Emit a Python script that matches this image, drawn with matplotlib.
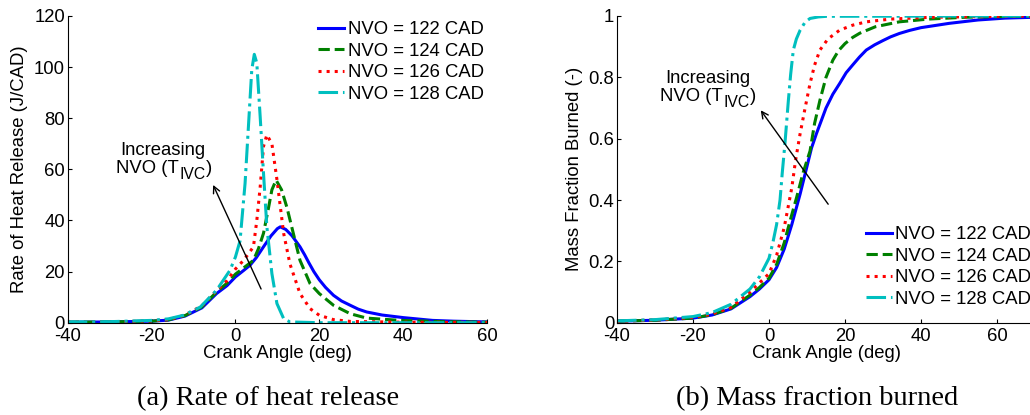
import matplotlib
matplotlib.use("Agg")
import matplotlib.pyplot as plt

plt.rcParams['font.family'] = ['Liberation Sans', 'DejaVu Sans']
plt.rcParams['axes.unicode_minus'] = False

labels = ["NVO = 122 CAD", "NVO = 124 CAD", "NVO = 126 CAD", "NVO = 128 CAD"]
colors = ["#0000ff", "#008000", "#ff0000", "#00bfbf"]
styles = ["-", "--", ":", "-."]

# Rate of heat release (J/CAD)
hr_x_122 = [-40, -30, -20, -16, -12, -8, -4.5, -2, 0, 2, 3.5, 5, 6.7, 8.5, 10, 10.7, 12, 13.5, 15.4, 16.5, 17.5, 18.7, 20, 21.5, 23.4, 25.3, 27.4, 29.3, 31.3, 35, 40, 47, 52, 60]
hr_y_122 = [0.2, 0.3, 0.6, 1.0, 2.6, 5.8, 11.4, 14.5, 17.9, 20.5, 22.5, 25.5, 29.7, 34, 36.8, 37.5, 36.5, 34, 29.7, 26.6, 23.5, 20, 16.8, 13.8, 10.7, 8.5, 6.8, 5.3, 4.2, 3.0, 2.0, 0.9, 0.6, 0.3]
hr_x_124 = [-40, -30, -20, -16, -12, -8, -4.5, -2, 0, 2, 4.3, 5.5, 6.7, 7.9, 8.7, 9.7, 11, 12.3, 13.8, 15.4, 17.8, 20, 23.4, 27.4, 31.3, 39.3, 50, 60]
hr_y_124 = [0.2, 0.3, 0.6, 1.1, 2.8, 6.2, 12, 15.5, 19, 21.5, 24.4, 29, 35, 45, 52, 55.8, 52, 45, 35, 24.4, 15.3, 11.4, 6.8, 3.5, 1.8, 0.9, 0.4, 0.2]
hr_x_126 = [-40, -30, -20, -16, -12, -8, -4.5, -2, 0, 2, 4.3, 5.1, 5.9, 6.7, 7.5, 8.7, 9.9, 11.5, 13, 15.4, 17.8, 20, 23.4, 27.4, 40, 60]
hr_y_126 = [0.2, 0.3, 0.7, 1.2, 3.0, 6.6, 12.5, 16.5, 21, 24.5, 29.7, 40, 53, 69, 73.5, 70, 56, 35, 23, 11.4, 5.5, 2.9, 1.2, 0.5, 0.2, 0.1]
hr_x_128 = [-40, -30, -20, -16, -12.4, -8.4, -4.5, -1.3, 0, 1.1, 2.3, 3.1, 3.9, 4.5, 5.1, 5.9, 6.7, 7.5, 8.7, 9.9, 11.5, 13, 20, 60]
hr_y_128 = [0.3, 0.4, 0.9, 1.5, 2.9, 6.1, 12.7, 20.5, 25.7, 32, 54.5, 76.7, 99, 105, 101.6, 80.7, 58.4, 37.5, 19.2, 7.5, 1.6, 0.3, 0.0, 0.0]

# Mass fraction burned (-)
mfb_x_122 = [-40, -30, -20, -15, -10, -5, -2.5, 0, 2, 4, 6, 8.2, 10, 11.2, 12.5, 13.8, 15, 16.8, 18.6, 20.3, 22, 23.8, 25.6, 27.8, 30, 32, 34.3, 37, 40, 47.4, 55, 62, 70]
mfb_y_122 = [0.005, 0.008, 0.015, 0.025, 0.045, 0.085, 0.11, 0.14, 0.18, 0.24, 0.32, 0.42, 0.51, 0.57, 0.617, 0.66, 0.7, 0.745, 0.78, 0.815, 0.84, 0.866, 0.889, 0.906, 0.92, 0.932, 0.943, 0.953, 0.962, 0.976, 0.987, 0.993, 0.996]
mfb_x_124 = [-40, -30, -20, -15, -10, -5, -2.5, 0, 2, 4, 5.5, 7.3, 9, 10.8, 12, 13.4, 15, 16.8, 18.3, 20, 22, 23.9, 28, 34.3, 42, 51.8, 70]
mfb_y_124 = [0.005, 0.008, 0.015, 0.026, 0.047, 0.09, 0.115, 0.145, 0.19, 0.26, 0.33, 0.41, 0.49, 0.56, 0.65, 0.725, 0.8, 0.856, 0.887, 0.91, 0.93, 0.944, 0.965, 0.981, 0.99, 0.996, 1.0]
mfb_x_126 = [-40, -30, -20, -15, -10, -5, -2.5, 0, 2, 4, 6, 7, 8.2, 9.5, 10.8, 12, 13.4, 15.5, 18.6, 22, 25.6, 32, 43, 70]
mfb_y_126 = [0.005, 0.009, 0.017, 0.028, 0.05, 0.1, 0.13, 0.16, 0.22, 0.31, 0.44, 0.53, 0.617, 0.7, 0.78, 0.84, 0.889, 0.925, 0.954, 0.97, 0.981, 0.99, 0.996, 1.0]
mfb_x_128 = [-40, -30, -20, -15, -10, -5, -2.5, 0, 1, 2, 2.9, 3.5, 4.2, 5.1, 5.7, 6.4, 7.2, 8.2, 9.5, 10.8, 13, 15.2, 70]
mfb_y_128 = [0.006, 0.01, 0.02, 0.033, 0.06, 0.11, 0.15, 0.21, 0.26, 0.32, 0.4, 0.49, 0.585, 0.725, 0.81, 0.889, 0.925, 0.954, 0.98, 0.992, 0.997, 0.999, 1.0]

hr_x = [hr_x_122, hr_x_124, hr_x_126, hr_x_128]
hr_y = [hr_y_122, hr_y_124, hr_y_126, hr_y_128]
mfb_x = [mfb_x_122, mfb_x_124, mfb_x_126, mfb_x_128]
mfb_y = [mfb_y_122, mfb_y_124, mfb_y_126, mfb_y_128]

xticks = [-40, -20, 0, 20, 40, 60]
hr_yticks = [0, 20, 40, 60, 80, 100, 120]
mfb_yticks = [0, 0.2, 0.4, 0.6, 0.8, 1.0]
mfb_yticklabels = ["0", "0.2", "0.4", "0.6", "0.8", "1"]

W, H = 1030, 415
fig = plt.figure(figsize=(W / 100, H / 100), dpi=100)

FS = 13.3


def style_axes(ax):
    for s in ["top", "right"]:
        ax.spines[s].set_visible(False)
    for s in ["left", "bottom"]:
        ax.spines[s].set_linewidth(0.8)
        ax.spines[s].set_color("black")
    ax.tick_params(direction="in", length=3, width=0.8, labelsize=FS)
    ax.tick_params(axis="x", pad=3.5)
    ax.tick_params(axis="y", pad=2)


ax1 = fig.add_axes([67.7 / W, 1 - 322.7 / H, (487 - 67.7) / W, (322.7 - 16) / H])
for xs, ys, c, ls, lab in zip(hr_x, hr_y, colors, styles, labels):
    ax1.plot(xs, ys, color=c, linestyle=ls, linewidth=2.2, label=lab)
ax1.set_xlim(-40, 60)
ax1.set_ylim(0, 120)
ax1.set_xticks(xticks)
ax1.set_yticks(hr_yticks)
style_axes(ax1)
ax1.set_xlabel("Crank Angle (deg)", fontsize=FS, labelpad=0)
ax1.set_ylabel("Rate of Heat Release (J/CAD)", fontsize=FS, labelpad=4)
ax1.legend(loc="upper left", bbox_to_anchor=(318 / W, 1 - 21 / H), bbox_transform=fig.transFigure,
           frameon=False, fontsize=FS, handlelength=1.4, handletextpad=0.2, labelspacing=0.25,
           borderpad=0, borderaxespad=0)
ax1.annotate("", xy=(-5.6, 54.9), xytext=(6.4, 12.2),
             arrowprops=dict(arrowstyle="->", color="black", lw=1.0, mutation_scale=12))

ax2 = fig.add_axes([617 / W, 1 - 322.7 / H, (1035 - 617) / W, (322.7 - 16) / H])
for xs, ys, c, ls, lab in zip(mfb_x, mfb_y, colors, styles, labels):
    ax2.plot(xs, ys, color=c, linestyle=ls, linewidth=2.2, label=lab)
ax2.set_xlim(-40, 70)
ax2.set_ylim(0, 1)
ax2.set_xticks(xticks)
ax2.set_yticks(mfb_yticks)
ax2.set_yticklabels(mfb_yticklabels)
style_axes(ax2)
ax2.set_xlabel("Crank Angle (deg)", fontsize=FS, labelpad=0)
ax2.set_ylabel("Mass Fraction Burned (-)", fontsize=FS, labelpad=4)
ax2.legend(loc="upper left", bbox_to_anchor=(866 / W, 1 - 226 / H), bbox_transform=fig.transFigure,
           frameon=False, fontsize=FS, handlelength=1.4, handletextpad=0.15, labelspacing=0.25,
           borderpad=0, borderaxespad=0)
ax2.annotate("", xy=(-2.6, 0.70), xytext=(16.0, 0.379),
             arrowprops=dict(arrowstyle="->", color="black", lw=1.0, mutation_scale=12))

# annotation texts: "Increasing" / "NVO (T" + subscript "IVC" + ")"
for xc, xl, yb1, yb2 in [(163, 116, 155, 173), (708, 660, 83, 101)]:
    fig.text(xc / W, 1 - yb1 / H, "Increasing", ha="center", va="baseline", fontsize=FS)
    t1 = fig.text(xl / W, 1 - yb2 / H, "NVO (T", ha="left", va="baseline", fontsize=FS)
    t2 = fig.text(0, 0, "IVC", fontsize=FS * 0.85, ha="left", va="baseline")
    t3 = fig.text(0, 0, ")", fontsize=FS, ha="left", va="baseline")
    fig.canvas.draw()
    r = fig.canvas.get_renderer()
    bb1 = t1.get_window_extent(r)
    t2.set_position(((bb1.x1 + 0.5) / W, (1 - yb2 / H) - 6 / H))
    bb2 = t2.get_window_extent(r)
    t3.set_position(((bb2.x1 + 0.5) / W, 1 - yb2 / H))

fig.text(268 / W, 1 - 399 / H, "(a) Rate of heat release", ha="center", va="center",
         fontsize=20.5, family="Liberation Serif")
fig.text(817 / W, 1 - 399 / H, "(b) Mass fraction burned", ha="center", va="center",
         fontsize=20.5, family="Liberation Serif")

fig.savefig("out.png", dpi=100)
